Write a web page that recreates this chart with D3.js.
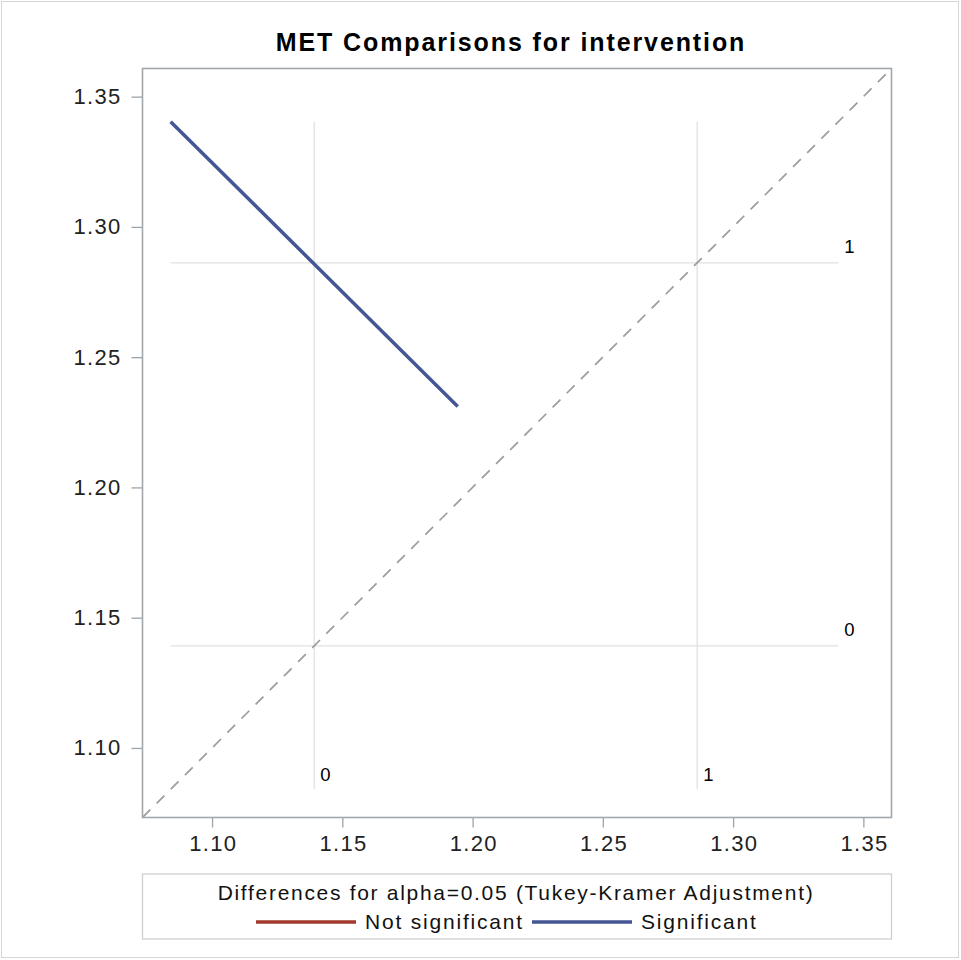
<!DOCTYPE html>
<html>
<head>
<meta charset="utf-8">
<script src="https://cdn.jsdelivr.net/npm/d3@7"></script>
<style>
  html, body { margin: 0; padding: 0; background: #fff; }
  svg text { font-family: "Liberation Sans", Arial, sans-serif; }
</style>
</head>
<body>
<svg id="chart" width="961" height="960"></svg>
<script>
// Diffogram of least-squares means for intervention (MET)
const groups = ["0", "1"];
const lsMeans = [1.1392, 1.2862];

// Comparison segment for the pair (0, 1): x = mean of 0, y = mean of 1
const segmentX = [1.0841, 1.1943];
const segmentY = [1.3404, 1.2311];
const segmentSignificant = true;

const axisDomain = [1.0733, 1.3608];
const tickValues = [1.10, 1.15, 1.20, 1.25, 1.30, 1.35];

const legendTitle = "Differences for alpha=0.05 (Tukey-Kramer Adjustment)";
const legendItems = ["Not significant", "Significant"];
const legendColors = ["#a23a2e", "#445694"];

const svg = d3.select("#chart");

// outer border
svg.append("rect")
  .attr("x", 1.5).attr("y", 1.5).attr("width", 957).attr("height", 956)
  .attr("fill", "#fff").attr("stroke", "#d6d6d6").attr("stroke-width", 1);

const frame = { left: 142.5, right: 891.5, top: 68.5, bottom: 817.5 };

const x = d3.scaleLinear().domain(axisDomain).range([frame.left, frame.right]);
const y = d3.scaleLinear().domain(axisDomain).range([frame.bottom, frame.top]);

// title
svg.append("text")
  .attr("x", 511)
  .attr("y", 51)
  .attr("text-anchor", "middle")
  .attr("font-size", 25)
  .attr("font-weight", "bold")
  .attr("letter-spacing", 1.9)
  .attr("fill", "#000")
  .text("MET Comparisons for intervention");

const plot = svg.append("g");

plot.append("defs").append("clipPath").attr("id", "clip")
  .append("rect")
  .attr("x", frame.left).attr("y", frame.top)
  .attr("width", frame.right - frame.left).attr("height", frame.bottom - frame.top);

// reference lines at each group mean, spanning the extent of the comparison segment
const refExtent = d3.extent(segmentX.concat(segmentY));
const refColor = "#e1e1e1";

lsMeans.forEach((m, i) => {
  plot.append("line")
    .attr("x1", x(m)).attr("x2", x(m))
    .attr("y1", y(refExtent[0])).attr("y2", y(refExtent[1]))
    .attr("stroke", refColor).attr("stroke-width", 1.3);
  plot.append("line")
    .attr("x1", x(refExtent[0])).attr("x2", x(refExtent[1]))
    .attr("y1", y(m)).attr("y2", y(m))
    .attr("stroke", refColor).attr("stroke-width", 1.3);

  // group labels
  plot.append("text")
    .attr("x", x(m) + 6)
    .attr("y", y(refExtent[0]) - 8)
    .attr("font-size", 18.5)
    .attr("letter-spacing", 0.5)
    .attr("fill", "#000")
    .text(groups[i]);
  plot.append("text")
    .attr("x", x(refExtent[1]) + 6)
    .attr("y", y(m) - 10)
    .attr("font-size", 18.5)
    .attr("letter-spacing", 0.5)
    .attr("fill", "#000")
    .text(groups[i]);
});

// diagonal of equality
plot.append("line")
  .attr("clip-path", "url(#clip)")
  .attr("x1", x(axisDomain[0])).attr("y1", y(axisDomain[0]))
  .attr("x2", x(axisDomain[1])).attr("y2", y(axisDomain[1]))
  .attr("stroke", "#9c9c9c").attr("stroke-width", 1.7)
  .attr("stroke-dasharray", "11,9");

// comparison segment
plot.append("line")
  .attr("x1", x(segmentX[0])).attr("y1", y(segmentY[0]))
  .attr("x2", x(segmentX[1])).attr("y2", y(segmentY[1]))
  .attr("stroke", segmentSignificant ? legendColors[1] : legendColors[0])
  .attr("stroke-width", 3.5)
  .attr("stroke-linecap", "butt");

// axes
const fmt = d3.format(".2f");
const xAxis = svg.append("g")
  .attr("transform", `translate(0,${frame.bottom})`)
  .call(d3.axisBottom(x).tickValues(tickValues).tickFormat(fmt).tickSize(10).tickPadding(8).tickSizeOuter(0));
const yAxis = svg.append("g")
  .attr("transform", `translate(${frame.left},0)`)
  .call(d3.axisLeft(y).tickValues(tickValues).tickFormat(fmt).tickSize(11).tickPadding(10).tickSizeOuter(0));

[xAxis, yAxis].forEach(g => {
  g.select(".domain").remove();
  g.selectAll(".tick line").attr("stroke", "#9ea3a8").attr("stroke-width", 1.3);
  g.selectAll(".tick text")
    .attr("font-size", 22)
    .attr("letter-spacing", 1.3)
    .attr("fill", "#222")
    .style("font-family", "'Liberation Sans', Arial, sans-serif");
});
xAxis.selectAll(".tick text").attr("dy", "0.71em").attr("dx", "0.65");

// plot frame
svg.append("rect")
  .attr("x", frame.left).attr("y", frame.top)
  .attr("width", frame.right - frame.left).attr("height", frame.bottom - frame.top)
  .attr("fill", "none").attr("stroke", "#a2a7ab").attr("stroke-width", 1.6);

// legend
const legend = svg.append("g");
legend.append("rect")
  .attr("x", frame.left).attr("y", 874)
  .attr("width", frame.right - frame.left).attr("height", 65)
  .attr("fill", "none").attr("stroke", "#cfcfcf").attr("stroke-width", 1.3);

legend.append("text")
  .attr("x", (frame.left + frame.right) / 2 - 1)
  .attr("y", 900)
  .attr("text-anchor", "middle")
  .attr("font-size", 21)
  .attr("letter-spacing", 1.7)
  .attr("fill", "#111")
  .text(legendTitle);

const itemX = [256, 532];
legendItems.forEach((label, i) => {
  legend.append("line")
    .attr("x1", itemX[i]).attr("x2", itemX[i] + 100)
    .attr("y1", 922).attr("y2", 922)
    .attr("stroke", legendColors[i]).attr("stroke-width", 3.5);
  legend.append("text")
    .attr("x", itemX[i] + 109)
    .attr("y", 929)
    .attr("font-size", 21)
    .attr("letter-spacing", 1.8)
    .attr("fill", "#111")
    .text(label);
});
</script>
</body>
</html>
